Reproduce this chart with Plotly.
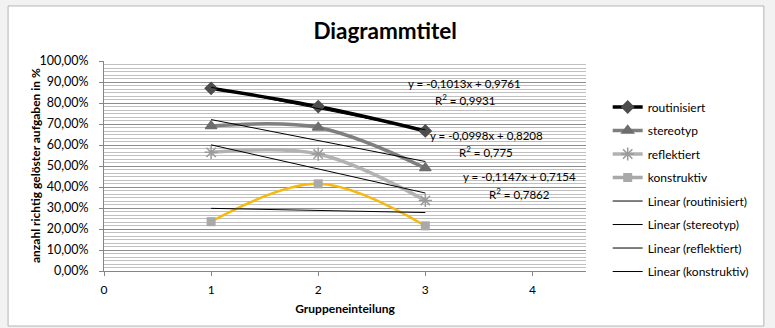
import numpy as np
import plotly.graph_objects as go

# Gruppen (x) und Anteil richtig gelöster Aufgaben je Typ
gruppen = [1, 2, 3]
routinisiert = [0.870, 0.783, 0.667]
stereotyp = [0.690, 0.683, 0.490]
reflektiert = [0.565, 0.557, 0.336]
konstruktiv = [0.235, 0.415, 0.215]

# Lineare Trends (Steigung, Achsenabschnitt, R²) wie angezeigt
trend_routinisiert = (-0.1013, 0.9761, "0,9931")
trend_stereotyp = (-0.0998, 0.8208, "0,775")
trend_reflektiert = (-0.1147, 0.7154, "0,7862")

y_ticks = [i / 10 for i in range(11)]
y_tick_text = [f"{v * 100:.2f}%".replace(".", ",") for v in y_ticks]
x_ticks = [0, 1, 2, 3, 4]

FONT = "Lato"
x_arr = np.array(gruppen, dtype=float)

fig = go.Figure()

# Datenreihen (geglättete Linien)
series = [
    ("routinisiert", routinisiert, "#000000", "diamond", "#4d4d4d", 9),
    ("stereotyp", stereotyp, "#7f7f7f", "triangle-up", "#6e6e6e", 10),
    ("reflektiert", reflektiert, "#b2b2b2", "asterisk-open", "#9a9a9a", 11),
]
for i, (name, vals, lc, sym, mc, ms) in enumerate(series):
    fig.add_trace(go.Scatter(
        x=gruppen, y=vals, name=name, mode="lines+markers",
        line=dict(color=lc, width=3.5, shape="spline", smoothing=1.0),
        marker=dict(symbol=sym, color=mc, size=ms,
                    line=dict(color=mc, width=1.5)),
        legendgroup=f"g{i}", legendrank=i,
    ))

# konstruktiv: orange Linie im Diagramm, graue Quadrate als Marker
fig.add_trace(go.Scatter(
    x=gruppen, y=konstruktiv, mode="lines", showlegend=False,
    line=dict(color="#f5b90f", width=2.5, shape="spline", smoothing=1.0),
))
fig.add_trace(go.Scatter(
    x=gruppen, y=konstruktiv, mode="markers", showlegend=False,
    marker=dict(symbol="square", color="#a9a9a9", size=9),
))
fig.add_trace(go.Scatter(
    x=[None], y=[None], name="konstruktiv", mode="lines+markers",
    line=dict(color="#a9a9a9", width=3.5),
    marker=dict(symbol="square", color="#a9a9a9", size=9),
    legendgroup="g3", legendrank=3,
))

# Lineare Trendlinien
coef_k = np.polyfit(x_arr, np.array(konstruktiv), 1)
trends = [
    ("Linear (routinisiert)", trend_routinisiert[0], trend_routinisiert[1]),
    ("Linear (stereotyp)", trend_stereotyp[0], trend_stereotyp[1]),
    ("Linear (reflektiert)", trend_reflektiert[0], trend_reflektiert[1]),
    ("Linear (konstruktiv)", coef_k[0], coef_k[1]),
]
for j, (name, m, b) in enumerate(trends):
    fig.add_trace(go.Scatter(
        x=gruppen, y=list(m * x_arr + b), name=name, mode="lines",
        line=dict(color="#000000", width=1),
        legendgroup=f"g{4 + j}", legendrank=4 + j,
    ))

# Trendgleichungen
def fmt(v):
    return f"{v:.4f}".replace(".", ",")

labels = [
    (trend_routinisiert, 3.37, 0.895, 0.819),
    (trend_stereotyp, 3.57, 0.643, 0.567),
    (trend_reflektiert, 3.88, 0.448, 0.371),
]
annotations = []
for (m, b, r2), xa, y1, y2 in labels:
    annotations.append(dict(
        x=xa, y=y1, xref="x", yref="y", showarrow=False,
        text=f"y = {fmt(m)}x + {fmt(b)}",
        font=dict(family=FONT, size=11.5, color="#000000")))
    annotations.append(dict(
        x=xa, y=y2, xref="x", yref="y", showarrow=False,
        text=f"R<sup>2</sup> = {r2}",
        font=dict(family=FONT, size=11.5, color="#000000")))

# Y-Achsentitel als gedrehter Text links der Achsenbeschriftung
annotations.append(dict(
    x=-0.143, y=0.5, xref="paper", yref="paper", showarrow=False,
    textangle=-90, xanchor="center", yanchor="middle",
    text="<b>anzahl richtig gelöster aufgaben in %</b>",
    font=dict(family=FONT, size=12, color="#000000")))

fig.update_layout(
    width=775, height=328,
    margin=dict(l=104, r=189, t=61, b=57),
    paper_bgcolor="#f2f2f2",
    plot_bgcolor="rgba(0,0,0,0)",
    title=dict(text="<b>Diagrammtitel</b>", x=0.497, xanchor="center",
               y=0.905, yanchor="middle",
               font=dict(family=FONT, size=22.5, color="#000000")),
    font=dict(family=FONT, size=12, color="#000000"),
    showlegend=True,
    legend=dict(x=1.045, xanchor="left", y=0.388, yanchor="middle",
                font=dict(family=FONT, size=12, color="#000000"),
                tracegroupgap=4.5, itemwidth=30,
                bgcolor="rgba(0,0,0,0)"),
    annotations=annotations,
    shapes=[
        dict(type="rect", xref="paper", yref="paper", layer="below",
             x0=-0.199, x1=1.369, y0=-0.262, y1=1.262,
             line=dict(color="#b4b4b4", width=1), fillcolor="#ffffff"),
    ],
)

fig.update_xaxes(
    range=[0, 4.5], tickvals=x_ticks, showgrid=False, zeroline=False,
    showline=True, linecolor="#868686", linewidth=1,
    ticks="outside", ticklen=4, tickcolor="#868686",
    ticklabelstandoff=4,
    tickfont=dict(family=FONT, size=12),
    title=dict(text="<b>Gruppeneinteilung</b>", standoff=8,
               font=dict(family=FONT, size=12)),
)
fig.update_yaxes(
    range=[0, 1.0], tickvals=y_ticks, ticktext=y_tick_text,
    showgrid=True, gridcolor="#8c8c8c", gridwidth=1, zeroline=False,
    showline=True, linecolor="#868686", linewidth=1,
    ticks="outside", ticklen=4, tickcolor="#868686",
    ticklabelstandoff=8,
    tickfont=dict(family=FONT, size=12.5),
    minor=dict(dtick=1 / 60, showgrid=True, gridcolor="#c0c0c0", gridwidth=1),
)

fig.write_html("out.html")
